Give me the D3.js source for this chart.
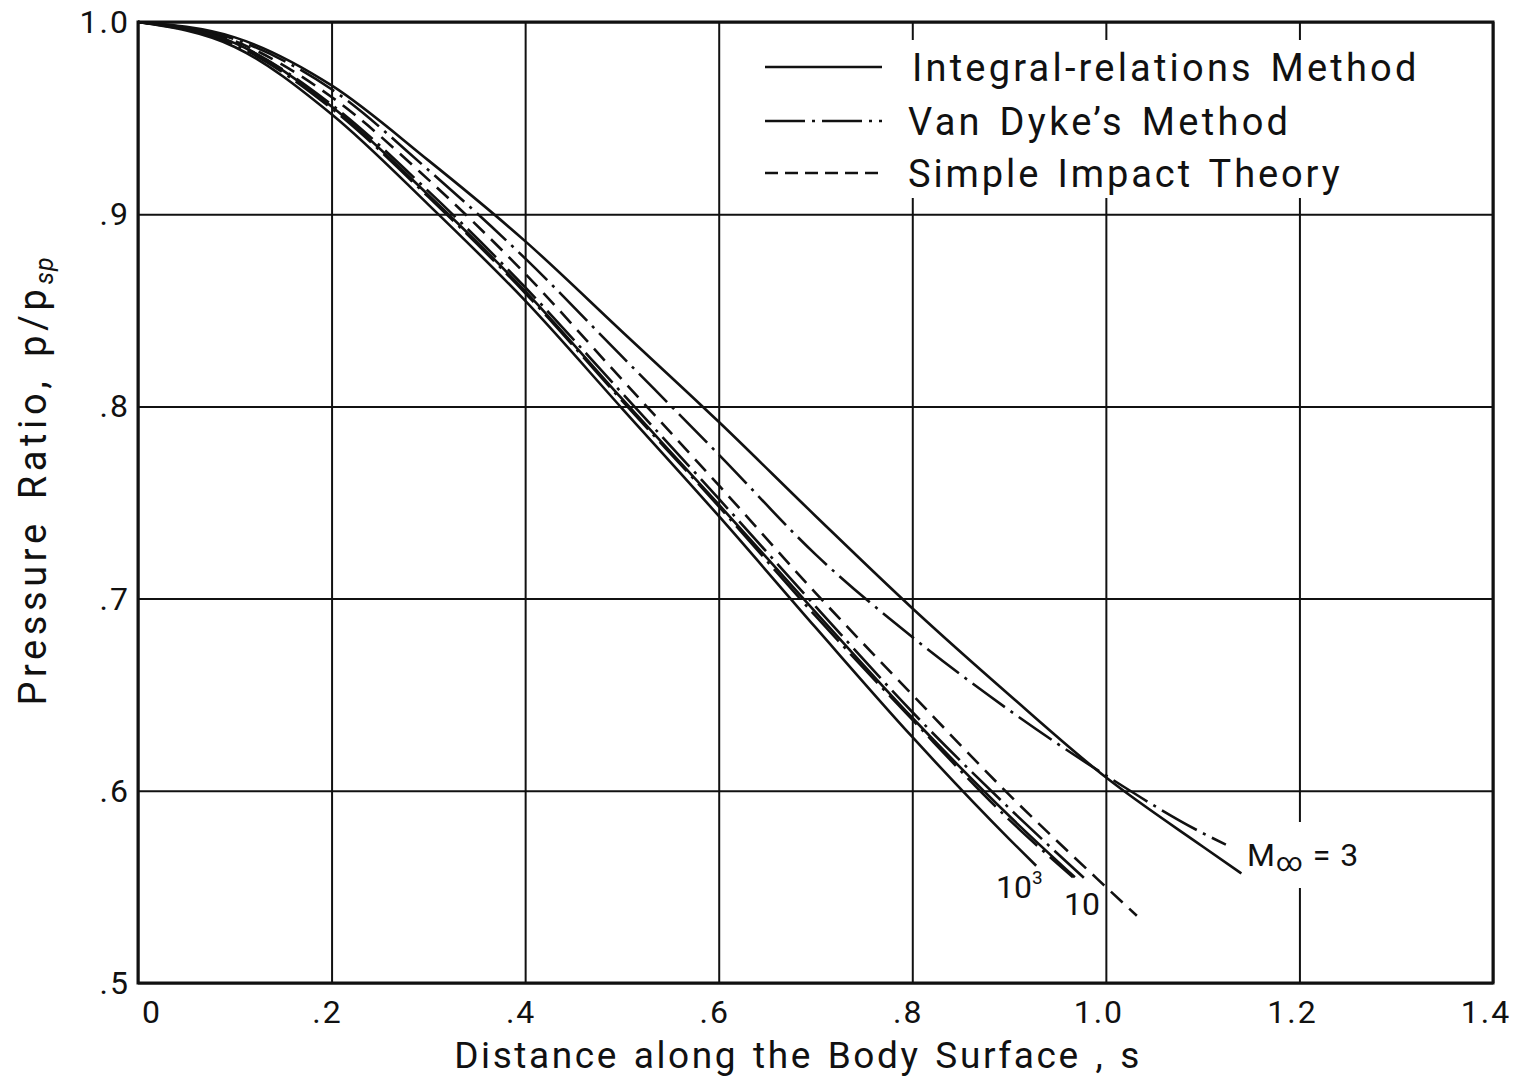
<!DOCTYPE html>
<html>
<head>
<meta charset="utf-8">
<script src="https://cdn.jsdelivr.net/npm/d3@7"></script>
<style>
  html, body { margin: 0; padding: 0; background: #fff; }
  svg { display: block; }
  text { font-family: Roboto, "DejaVu Sans", sans-serif; fill: #111; }
</style>
</head>
<body>
<svg id="chart" width="1526" height="1079"></svg>
<script>
// Axis ticks and labels
const xTicks = [0, 0.2, 0.4, 0.6, 0.8, 1.0, 1.2, 1.4];
const xTickLabels = ["0", ".2", ".4", ".6", ".8", "1.0", "1.2", "1.4"];
const yTicks = [0.5, 0.6, 0.7, 0.8, 0.9, 1.0];
const yTickLabels = [".5", ".6", ".7", ".8", ".9", "1.0"];

// Integral-relations method (solid)
const sIntegralM3 = [0, 0.1, 0.2, 0.3, 0.4, 0.5, 0.6, 0.7, 0.8, 0.9, 1.0, 1.1, 1.14];
const pIntegralM3 = [1.0, 0.992, 0.967, 0.928, 0.886, 0.839, 0.792, 0.743, 0.695, 0.650, 0.607, 0.571, 0.557];
const sIntegralM10 = [0, 0.1, 0.2, 0.3, 0.4, 0.5, 0.6, 0.7, 0.8, 0.9, 0.968];
const pIntegralM10 = [1.0, 0.989, 0.956, 0.910, 0.860, 0.804, 0.749, 0.693, 0.638, 0.587, 0.555];
const sIntegralM1000 = [0, 0.1, 0.2, 0.3, 0.4, 0.5, 0.6, 0.7, 0.8, 0.9, 0.928];
const pIntegralM1000 = [1.0, 0.987, 0.952, 0.905, 0.855, 0.799, 0.743, 0.685, 0.628, 0.575, 0.561];

// Van Dyke's method (dash-dot)
const sVanDykeM3 = [0, 0.1, 0.2, 0.3, 0.4, 0.5, 0.6, 0.7, 0.8, 0.9, 1.0, 1.1, 1.124];
const pVanDykeM3 = [1.0, 0.991, 0.965, 0.923, 0.877, 0.826, 0.775, 0.723, 0.680, 0.642, 0.608, 0.578, 0.572];
const sVanDykeM10 = [0, 0.1, 0.2, 0.3, 0.4, 0.5, 0.6, 0.7, 0.8, 0.9, 0.981];
const pVanDykeM10 = [1.0, 0.989, 0.957, 0.912, 0.862, 0.807, 0.752, 0.696, 0.641, 0.591, 0.553];
const sVanDykeM1000 = [0, 0.1, 0.2, 0.3, 0.4, 0.5, 0.6, 0.7, 0.8, 0.9, 0.966];
const pVanDykeM1000 = [1.0, 0.988, 0.955, 0.909, 0.859, 0.803, 0.748, 0.691, 0.637, 0.585, 0.555];

// Simple impact theory (dashed)
const sImpact = [0, 0.1, 0.2, 0.3, 0.4, 0.5, 0.6, 0.7, 0.8, 0.9, 1.0, 1.032];
const pImpact = [1.0, 0.990, 0.961, 0.918, 0.869, 0.814, 0.759, 0.703, 0.650, 0.598, 0.550, 0.535];

const legendLabels = ["Integral-relations Method", "Van Dyke\u2019s Method", "Simple Impact Theory"];

const DASH_DOT = "40,7,3,7";
const DASHED = "16,9";
const LEGEND_DASHED = "13,7";

const svg = d3.select("#chart");
const margin = { left: 138, right: 33, top: 22, bottom: 96 };
const W = 1526, H = 1079;
const plotW = W - margin.left - margin.right;
const plotH = H - margin.top - margin.bottom;

const x = d3.scaleLinear().domain([0, 1.4]).range([margin.left, margin.left + plotW]);
const y = d3.scaleLinear().domain([0.5, 1.0]).range([margin.top + plotH, margin.top]);

// Grid lines drawn through the axis generators
svg.append("g")
  .attr("transform", `translate(0,${margin.top + plotH})`)
  .call(d3.axisBottom(x).tickValues(xTicks).tickSize(-plotH).tickFormat(""))
  .call(g => g.select(".domain").remove())
  .call(g => g.selectAll("line").attr("stroke", "#111").attr("stroke-width", 2));

svg.append("g")
  .attr("transform", `translate(${margin.left},0)`)
  .call(d3.axisLeft(y).tickValues(yTicks).tickSize(-plotW).tickFormat(""))
  .call(g => g.select(".domain").remove())
  .call(g => g.selectAll("line").attr("stroke", "#111").attr("stroke-width", 2));

// Frame
svg.append("rect")
  .attr("x", margin.left).attr("y", margin.top)
  .attr("width", plotW).attr("height", plotH)
  .attr("fill", "none").attr("stroke", "#111").attr("stroke-width", 3);

// Tick labels
const xLabelShift = { "0": 14, ".2": -4, ".4": -4, ".6": -4, ".8": -4, "1.0": -7, "1.2": -7, "1.4": -7 };
svg.append("g").selectAll("text")
  .data(xTicks)
  .join("text")
  .attr("x", (d, i) => x(d) + xLabelShift[xTickLabels[i]])
  .attr("y", 1023)
  .attr("text-anchor", "middle")
  .attr("font-size", 32)
  .attr("letter-spacing", 2)
  .text((d, i) => xTickLabels[i]);

svg.append("g").selectAll("text")
  .data(yTicks)
  .join("text")
  .attr("x", 130)
  .attr("y", d => y(d) + 11)
  .attr("text-anchor", "end")
  .attr("font-size", 32)
  .attr("letter-spacing", 2)
  .text((d, i) => yTickLabels[i]);

// Axis titles
svg.append("text")
  .attr("x", 798).attr("y", 1068)
  .attr("text-anchor", "middle")
  .attr("font-size", 37)
  .attr("letter-spacing", 2.6)
  .attr("word-spacing", 3)
  .text("Distance along the Body Surface , s");

const yTitle = svg.append("text")
  .attr("transform", "translate(46,481) rotate(-90)")
  .attr("text-anchor", "middle")
  .attr("font-size", 38)
  .attr("letter-spacing", 4.6)
  .attr("word-spacing", 6);
yTitle.append("tspan").text("Pressure Ratio, p/p");
yTitle.append("tspan").attr("font-size", 25).attr("font-style", "italic")
  .attr("dy", 7).attr("letter-spacing", 1).text("sp");

// Curves
const line = d3.line()
  .x(d => x(d[0]))
  .y(d => y(d[1]))
  .curve(d3.curveMonotoneX);

const curves = [
  { s: sImpact, p: pImpact, dash: DASHED },
  { s: sVanDykeM3, p: pVanDykeM3, dash: DASH_DOT },
  { s: sVanDykeM10, p: pVanDykeM10, dash: DASH_DOT },
  { s: sVanDykeM1000, p: pVanDykeM1000, dash: DASH_DOT },
  { s: sIntegralM3, p: pIntegralM3, dash: null },
  { s: sIntegralM10, p: pIntegralM10, dash: null },
  { s: sIntegralM1000, p: pIntegralM1000, dash: null }
];

svg.append("g").selectAll("path")
  .data(curves)
  .join("path")
  .attr("d", c => line(c.s.map((s, i) => [s, c.p[i]])))
  .attr("fill", "none")
  .attr("stroke", "#111")
  .attr("stroke-width", 2.6)
  .attr("stroke-dasharray", c => c.dash);

// Legend
const legend = svg.append("g");
legend.append("rect")
  .attr("x", 745).attr("y", 40).attr("width", 705).attr("height", 158)
  .attr("fill", "#fff");
const legendRows = [
  { y: 67, dash: null, tx: 912, ls: 3.2 },
  { y: 121, dash: DASH_DOT, tx: 908, ls: 3.3 },
  { y: 173, dash: LEGEND_DASHED, tx: 908, ls: 2.9 }
];
legend.selectAll("line")
  .data(legendRows)
  .join("line")
  .attr("x1", 765).attr("x2", 882)
  .attr("y1", d => d.y).attr("y2", d => d.y)
  .attr("stroke", "#111").attr("stroke-width", 2.6)
  .attr("stroke-dasharray", d => d.dash);
legend.selectAll("text")
  .data(legendRows)
  .join("text")
  .attr("x", d => d.tx)
  .attr("y", d => d.y + 14)
  .attr("font-size", 38)
  .attr("letter-spacing", d => d.ls)
  .attr("word-spacing", 4)
  .text((d, i) => legendLabels[i]);

// Mach number labels
svg.append("rect")
  .attr("x", 1246).attr("y", 822).attr("width", 118).attr("height", 66)
  .attr("fill", "#fff");
const m3 = svg.append("text")
  .attr("x", 1247).attr("y", 866)
  .attr("font-size", 32)
  .attr("letter-spacing", 1);
m3.append("tspan").text("M");
m3.append("tspan").attr("font-size", 26).attr("dy", 5).text("\u221E");
m3.append("tspan").attr("dy", -5).text(" = 3");

const m1000 = svg.append("text")
  .attr("x", 996).attr("y", 898)
  .attr("font-size", 32);
m1000.append("tspan").text("10");
m1000.append("tspan").attr("font-size", 19).attr("dy", -14).text("3");

svg.append("text")
  .attr("x", 1064).attr("y", 915)
  .attr("font-size", 32)
  .text("10");
</script>
</body>
</html>
